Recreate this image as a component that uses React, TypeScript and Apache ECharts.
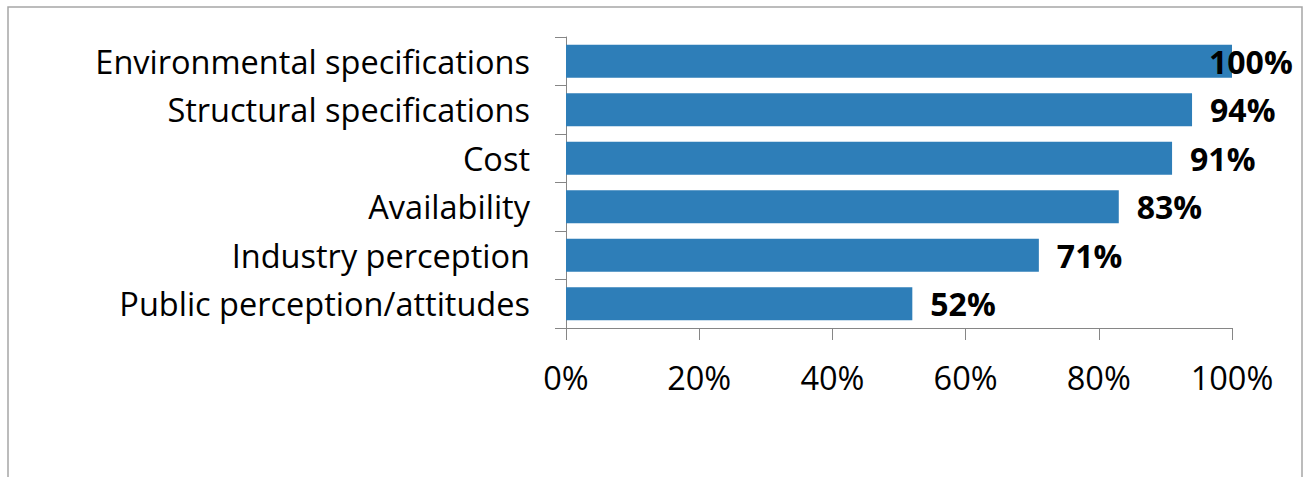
import React, { useEffect, useRef } from "react";
import * as echarts from "echarts";

const categories = [
  "Public perception/attitudes",
  "Industry perception",
  "Availability",
  "Cost",
  "Structural specifications",
  "Environmental specifications",
];
const values = [52, 71, 83, 91, 94, 100];
const xTicks = [0, 20, 40, 60, 80, 100];

const FONT = "Open Sans";

export default function App() {
  const ref = useRef<HTMLDivElement>(null);
  useEffect(() => {
    document.body.style.margin = "0";
    const chart = echarts.init(ref.current!, null, { renderer: "svg" });
    chart.setOption({
      animation: false,
      backgroundColor: "#ffffff",
      graphic: [
        {
          type: "rect",
          shape: { x: 8, y: 7, width: 1294, height: 520 },
          style: { fill: "none", stroke: "#a6a6a6", lineWidth: 1.5 },
          silent: true,
        },
      ],
      grid: { left: 566, right: 75, top: 37, bottom: 149, containLabel: false },
      xAxis: {
        type: "value",
        min: xTicks[0],
        max: xTicks[xTicks.length - 1],
        interval: 20,
        axisLine: { show: true, lineStyle: { color: "#868686", width: 1 } },
        axisTick: { show: true, length: 12, lineStyle: { color: "#868686" } },
        splitLine: { show: false },
        axisLabel: {
          formatter: "{value}%",
          fontFamily: FONT,
          fontSize: 32.5,
          color: "#000",
          margin: 33,
        },
      },
      yAxis: {
        type: "category",
        data: categories,
        axisLine: { show: true, lineStyle: { color: "#868686", width: 1 } },
        axisTick: { show: true, length: 11, lineStyle: { color: "#868686" } },
        axisLabel: {
          fontFamily: FONT,
          fontSize: 32.5,
          color: "#000",
          margin: 36,
        },
      },
      series: [
        {
          type: "bar",
          data: values.map((v) =>
            v >= 100 ? { value: v, label: { offset: [-41, 0] } } : v
          ),
          barCategoryGap: "32%",
          itemStyle: { color: "#2E7EB8" },
          label: {
            show: true,
            position: "right",
            distance: 18,
            formatter: "{c}%",
            fontFamily: FONT,
            fontWeight: "bold",
            fontSize: 32,
            color: "#000",
          },
        },
      ],
    });
    return () => chart.dispose();
  }, []);
  return <div ref={ref} style={{ width: 1307, height: 477 }} />;
}
